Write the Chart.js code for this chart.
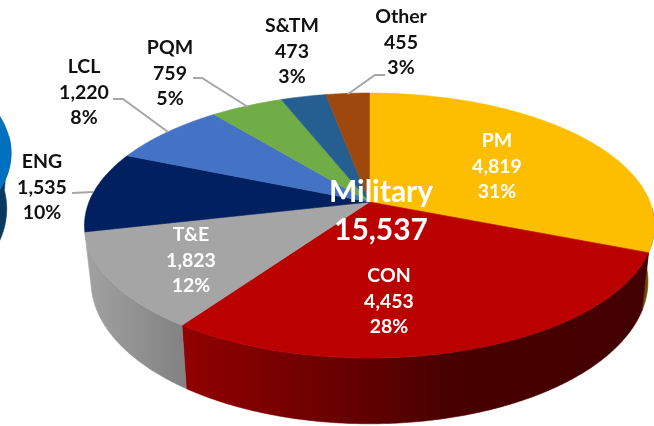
<!DOCTYPE html>
<html>
<head>
<meta charset="utf-8">
<style>
html,body{margin:0;padding:0;background:#fff;width:654px;height:426px;overflow:hidden}
canvas{position:absolute;top:0}
#main{left:0}
#neighbour{left:-560px}
</style>
<script src="https://cdn.jsdelivr.net/npm/chart.js@4/dist/chart.umd.js"></script>
</head>
<body>
<canvas id="neighbour" width="572" height="426"></canvas>
<canvas id="main" width="654" height="426"></canvas>
<script>
const categories = ["PM","CON","T&E","ENG","LCL","PQM","S&TM","Other"];
const values = [4819,4453,1823,1535,1220,759,473,455];
const percents = [31,28,12,10,8,5,3,3];
const centerTitle = "Military";
const centerTotal = 15537;
const neighbourValues = [1];

const sliceColors = ["#fdbd00","#bb0000","#a5a5a5","#002060","#4472c4","#70ad47","#255e91","#9e480e"];
const wallStops = [
  [[560,"#5a4500"],[654,"#6b5200"]],
  [[181,"#930000"],[330,"#6b0000"],[450,"#480000"],[654,"#430000"]],
  [[85,"#a2a2a2"],[181,"#838383"]],
  [[85,"#001030"],[180,"#001030"]],
  [[85,"#223862"],[180,"#223862"]],
  [[85,"#385623"],[180,"#385623"]],
  [[85,"#122f48"],[180,"#122f48"]],
  [[85,"#4f2407"],[180,"#4f2407"]]
];

/* perspective of the tilted pie: near side larger than far side */
const tilt = {p:0.1774, k:0.4574, wallK:0.492, wallDrop:54};
const wallFrom = Math.asin(0.05), wallTo = Math.PI-Math.asin(0.2245);

function project(el, a, wallScale){
  const nx=Math.cos(a), ny=Math.sin(a), w=1-tilt.p*ny, R=el.outerRadius;
  if(!wallScale) return [el.x+R*nx/w, el.y+R*tilt.k*ny/w];
  return [el.x+R*wallScale*nx/w, el.y+tilt.wallDrop+R*tilt.wallK*ny/w];
}
function rim(el, a0, a1, wallScale){
  const pts=[], n=Math.max(2,Math.ceil((a1-a0)/0.01));
  for(let i=0;i<=n;i++) pts.push(project(el, a0+(a1-a0)*i/n, wallScale));
  return pts;
}
const pie3d = {
  id:"pie3d",
  beforeDatasetsDraw(chart){
    const ctx=chart.ctx, arcs=chart.getDatasetMeta(0).data, cfg=chart.options.plugins.pie3d;
    ctx.save();
    ctx.lineJoin="round";
    arcs.forEach((el,i)=>{
      const a0=Math.max(el.startAngle,wallFrom), a1=Math.min(el.endAngle,wallTo);
      if(a1<=a0) return;
      const top=rim(el,a0,a1,0), low=rim(el,a0,a1,cfg.wallScale).reverse();
      const stops=cfg.walls[i], x0=stops[0][0], x1=stops[stops.length-1][0];
      const g=ctx.createLinearGradient(x0,0,x1,0);
      stops.forEach(s=>g.addColorStop((s[0]-x0)/(x1-x0),s[1]));
      ctx.beginPath();
      top.concat(low).forEach((p,j)=>j?ctx.lineTo(p[0],p[1]):ctx.moveTo(p[0],p[1]));
      ctx.closePath();
      ctx.fillStyle=g; ctx.fill();
      ctx.strokeStyle=g; ctx.lineWidth=0.6; ctx.stroke();
    });
    arcs.forEach((el,i)=>{
      ctx.beginPath();
      ctx.moveTo(el.x,el.y);
      rim(el,el.startAngle,el.endAngle,0).forEach(p=>ctx.lineTo(p[0],p[1]));
      ctx.closePath();
      ctx.fillStyle=cfg.colors[i]; ctx.fill();
      ctx.strokeStyle=cfg.colors[i]; ctx.lineWidth=0.6; ctx.stroke();
    });
    ctx.restore();
    return false;
  }
};

const labelPlaces = {
  "PM":[497,141,"#fff"],"CON":[389,276,"#fff"],"T&E":[191,235,"#fff"],
  "ENG":[42,162,"#111"],"LCL":[84,67,"#111"],"PQM":[170,48,"#111"],
  "S&TM":[292,26,"#111"],"Other":[401,17,"#111"]
};
const leaders = [
  [[72,193],[93,192]],
  [[113,99],[123,99],[168,132]],
  [[193,78],[202,78],[248,107]],
  [[385,75],[375,75],[348,94]]
];
const labelsPlugin = {
  id:"pieLabels",
  afterDraw(chart){
    const ctx=chart.ctx;
    ctx.save();
    ctx.strokeStyle="#a6a6a6"; ctx.lineWidth=2;
    leaders.forEach(l=>{
      ctx.beginPath();
      l.forEach((p,j)=>j?ctx.lineTo(p[0],p[1]):ctx.moveTo(p[0],p[1]));
      ctx.stroke();
    });
    ctx.textAlign="center"; ctx.textBaseline="middle";
    ctx.font="bold 19.5px Lato";
    categories.forEach((c,i)=>{
      const pl=labelPlaces[c];
      ctx.fillStyle=pl[2];
      ctx.fillText(c,pl[0],pl[1]);
      ctx.fillText(values[i].toLocaleString("en-US"),pl[0],pl[1]+26);
      ctx.fillText(percents[i]+"%",pl[0],pl[1]+51);
    });
    ctx.fillStyle="#fff";
    ctx.font="bold 30px Lato";
    ctx.fillText(centerTitle,381,192);
    ctx.fillText(centerTotal.toLocaleString("en-US"),381,230);
    ctx.restore();
  }
};

function makePie(id,data,pad,colors,walls,wallScale,extra){
  return new Chart(document.getElementById(id),{
    type:"pie",
    data:{labels:data===values?categories:["Neighbour"],datasets:[{data:data,backgroundColor:colors,borderWidth:0}]},
    options:{
      responsive:false,animation:false,radius:280.5,
      layout:{padding:pad},
      events:[],
      plugins:{legend:{display:false},tooltip:{enabled:false},pie3d:{colors:colors,walls:walls,wallScale:wallScale}}
    },
    plugins:[pie3d].concat(extra)
  });
}
makePie("neighbour",neighbourValues,{left:0,right:0,top:0,bottom:167},["#0070c0"],[[[0,"#0b3a5f"],[20,"#0b3a5f"]]],0.985,[]);
makePie("main",values,{left:85,right:0,top:0,bottom:22},sliceColors,wallStops,0.977,[labelsPlugin]);
</script>
</body>
</html>
